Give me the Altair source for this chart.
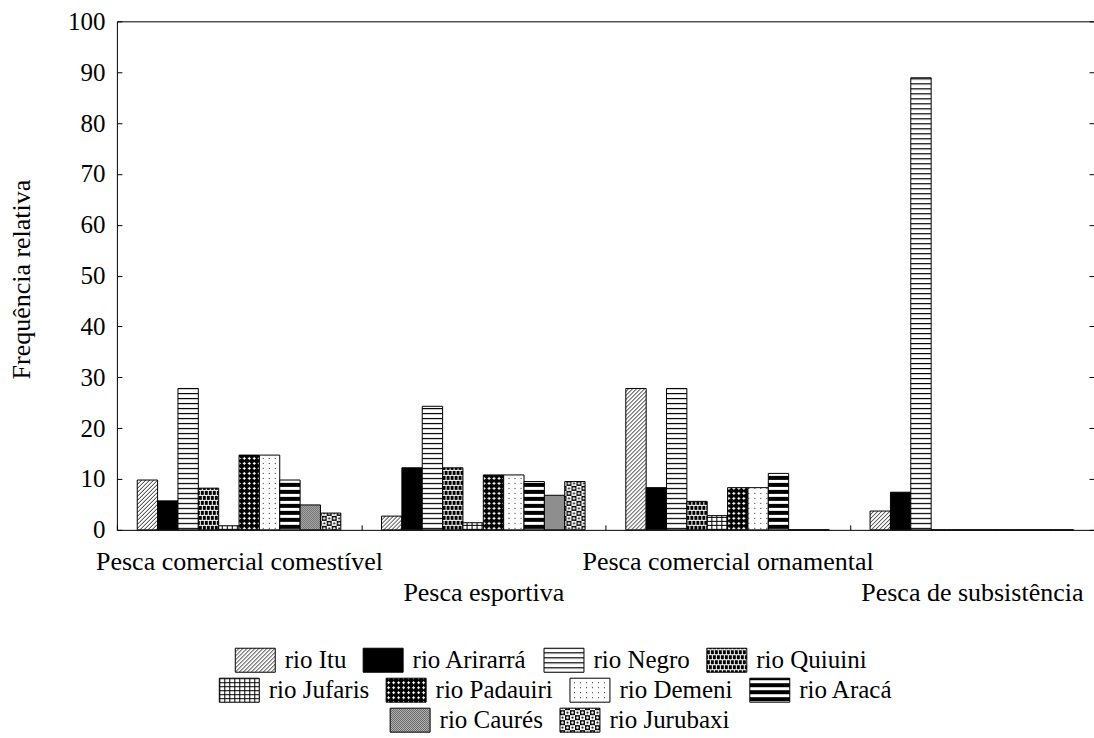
import altair as alt
import pandas as pd
import jinja2

# Categorias (atividades de pesca) e rios amostrados
atividades = [
    "Pesca comercial comestível",
    "Pesca esportiva",
    "Pesca comercial ornamental",
    "Pesca de subsistência",
]
rios = [
    "rio Itu", "rio Arirarrá", "rio Negro", "rio Quiuini", "rio Jufaris",
    "rio Padauiri", "rio Demeni", "rio Aracá", "rio Caurés", "rio Jurubaxi",
]

# Frequência relativa (%) de cada rio, por atividade
comercial_comestivel = [9.8, 5.7, 27.8, 8.2, 0.8, 14.7, 14.7, 9.8, 4.9, 3.3]
esportiva = [2.7, 12.2, 24.3, 12.2, 1.4, 10.8, 10.8, 9.5, 6.8, 9.5]
comercial_ornamental = [27.8, 8.3, 27.8, 5.6, 2.8, 8.3, 8.3, 11.1, 0.0, 0.0]
subsistencia = [3.7, 7.4, 88.9, 0.0, 0.0, 0.0, 0.0, 0.0, 0.0, 0.0]

# Preenchimento de cada rio (hachuras definidas como padrões SVG na página)
preenchimentos = [
    "url(#p-itu)", "#000000", "url(#p-negro)", "url(#p-quiuini)", "url(#p-jufaris)",
    "url(#p-padauiri)", "url(#p-demeni)", "url(#p-araca)", "url(#p-caures)", "url(#p-jurubaxi)",
]

# Linhas da legenda
legenda_linhas = [rios[0:4], rios[4:8], rios[8:10]]
legenda_pos = [(118, 619), (102, 649), (273, 679)]

series = [comercial_comestivel, esportiva, comercial_ornamental, subsistencia]
linhas = []
for atividade, valores in zip(atividades, series):
    for rio, v in zip(rios, valores):
        linhas.append({"atividade": atividade, "rio": rio, "frequencia": v})
df = pd.DataFrame(linhas)

fonte = "Liberation Serif"
escala_y = alt.Scale(domain=[0, 100], nice=False, zero=True)
marcas_y = list(range(0, 101, 10))
cor_por_rio = dict(zip(rios, preenchimentos))

base = alt.Chart(df)

barras = base.mark_bar(stroke="black", strokeWidth=1).encode(
    x=alt.X(
        "atividade:N",
        sort=atividades,
        title=None,
        scale=alt.Scale(paddingInner=0, paddingOuter=0),
        axis=alt.Axis(
            orient="bottom",
            domain=False,
            tickBand="extent",
            tickSize=5,
            offset=-5,
            labelAngle=0,
            labelPadding=19,
            labelFontSize=26,
            labelLineHeight=31,
            labelLimit=0,
            labelOverlap=False,
            labelBound=False,
            labelExpr="indexof(['Pesca esportiva', 'Pesca de subsistência'], datum.value) >= 0 ? ['', datum.label] : datum.label",
        ),
    ),
    xOffset=alt.XOffset(
        "rio:N", sort=rios, scale=alt.Scale(paddingInner=0, paddingOuter=1)
    ),
    y=alt.Y(
        "frequencia:Q",
        title="Frequência relativa",
        scale=escala_y,
        axis=alt.Axis(
            orient="left",
            values=marcas_y,
            domain=False,
            grid=False,
            tickSize=5,
            offset=-5,
            labelPadding=12,
            labelFontSize=25,
            titleFontSize=26,
            titleX=-100,
            titleY=258,
            titleAlign="center",
            titleBaseline="middle",
        ),
    ),
    fill=alt.Fill("rio:N", sort=rios, scale=alt.Scale(domain=rios, range=preenchimentos), legend=None),
)

# Eixo da direita: apenas marcas de escala voltadas para dentro
eixo_direito = base.transform_filter("false").mark_point(opacity=0).encode(
    y=alt.Y(
        "frequencia:Q",
        scale=escala_y,
        axis=alt.Axis(
            orient="right",
            values=marcas_y,
            labels=False,
            domain=False,
            grid=False,
            tickSize=5,
            offset=-5,
            title=None,
        ),
    )
)

# Legenda em três linhas centralizadas
camadas_legenda = []
for grupo, (lx, ly) in zip(legenda_linhas, legenda_pos):
    camadas_legenda.append(
        base.transform_filter("false").mark_bar(stroke="black").encode(
            fill=alt.Fill(
                "rio:N",
                scale=alt.Scale(domain=grupo, range=[cor_por_rio[r] for r in grupo]),
                legend=alt.Legend(
                    title=None,
                    orient="none",
                    legendX=lx,
                    legendY=ly,
                    direction="horizontal",
                    columns=len(grupo),
                    gridAlign="none",
                    symbolType="M-1,-0.6L1,-0.6L1,0.6L-1,0.6Z",
                    symbolSize=1600,
                    symbolStrokeColor="black",
                    symbolStrokeWidth=1,
                    symbolOpacity=1,
                    labelOffset=9,
                    columnPadding=14,
                    labelFontSize=25,
                    labelLimit=0,
                    padding=0,
                ),
            )
        )
    )

chart = (
    alt.layer(barras, eixo_direito, *camadas_legenda)
    .resolve_scale(fill="independent")
    .resolve_axis(y="independent")
    .properties(
        width=978,
        height=509,
        autosize=alt.AutoSizeParams(type="none"),
        padding={"left": 117, "top": 21, "right": 0, "bottom": 208},
        background="white",
    )
    .configure_view(stroke="black", strokeWidth=1, fill="white")
    .configure_axis(
        labelFont=fonte,
        titleFont=fonte,
        labelColor="black",
        titleColor="black",
        tickColor="black",
        tickWidth=1,
        titleFontWeight="normal",
    )
    .configure_legend(labelFont=fonte, labelColor="black")
)

# Padrões de hachura usados como preenchimento
PADROES_SVG = """
<svg width="0" height="0" style="position:absolute;left:0;top:0" aria-hidden="true">
<defs>
<pattern id="p-itu" patternUnits="userSpaceOnUse" width="4" height="4">
<rect width="4" height="4" fill="#fff"/>
<path d="M0,4L4,0M-1,1L1,-1M3,5L5,3" stroke="#222" stroke-width="1"/>
</pattern>
<pattern id="p-negro" patternUnits="userSpaceOnUse" width="6" height="5">
<rect width="6" height="5" fill="#fff"/><rect y="2" width="6" height="1.2" fill="#000"/>
</pattern>
<pattern id="p-quiuini" patternUnits="userSpaceOnUse" width="8" height="10">
<rect width="8" height="10" fill="#fff"/>
<rect x="0" y="0" width="3" height="4" fill="#000"/><rect x="4" y="0" width="3" height="4" fill="#000"/>
<rect x="2" y="5" width="3" height="4" fill="#000"/><rect x="6" y="5" width="2" height="4" fill="#000"/>
<rect x="0" y="5" width="1" height="4" fill="#000"/>
</pattern>
<pattern id="p-jufaris" patternUnits="userSpaceOnUse" width="5" height="4">
<rect width="5" height="4" fill="#fff"/><rect width="1" height="4" fill="#000"/><rect width="5" height="1" fill="#000"/>
</pattern>
<pattern id="p-padauiri" patternUnits="userSpaceOnUse" width="5" height="5">
<rect width="5" height="5" fill="#000"/><rect x="2" y="1" width="1" height="3" fill="#fff"/><rect x="1" y="2" width="3" height="1" fill="#fff"/>
</pattern>
<pattern id="p-demeni" patternUnits="userSpaceOnUse" width="6" height="5">
<rect width="6" height="5" fill="#fff"/><rect x="2" y="2" width="1" height="1" fill="#222"/>
</pattern>
<pattern id="p-araca" patternUnits="userSpaceOnUse" width="6" height="7">
<rect width="6" height="7" fill="#fff"/><rect y="0" width="6" height="4" fill="#000"/>
</pattern>
<pattern id="p-caures" patternUnits="userSpaceOnUse" width="2" height="2">
<rect width="2" height="2" fill="#d8d8d8"/><rect width="1" height="1" fill="#444"/><rect x="1" y="1" width="1" height="1" fill="#444"/>
</pattern>
<pattern id="p-jurubaxi" patternUnits="userSpaceOnUse" width="10" height="10">
<rect width="10" height="10" fill="#fff"/><rect width="5" height="5" fill="#000"/><rect x="5" y="5" width="5" height="5" fill="#000"/>
<circle cx="2.5" cy="2.5" r="1.3" fill="#fff"/><circle cx="7.5" cy="7.5" r="1.3" fill="#fff"/>
<circle cx="7.5" cy="2.5" r="1.1" fill="#000"/><circle cx="2.5" cy="7.5" r="1.1" fill="#000"/>
</pattern>
</defs>
</svg>
"""

pagina = jinja2.Template(
    """<!DOCTYPE html>
<html>
<head>
<meta charset="utf-8">
<style>
  html, body { margin: 0; padding: 0; overflow: hidden; background: #fff; }
  #{{ output_div }}.vega-embed { width: 100%; display: flex; }
</style>
<script type="text/javascript" src="{{ base_url }}/vega@{{ vega_version }}"></script>
<script type="text/javascript" src="{{ base_url }}/vega-lite@{{ vegalite_version }}"></script>
<script type="text/javascript" src="{{ base_url }}/vega-embed@{{ vegaembed_version }}"></script>
</head>
<body>
"""
    + PADROES_SVG
    + """
<div id="{{ output_div }}"></div>
<script>
  vegaEmbed("#{{ output_div }}", {{ spec }}, {{ embed_options }}).catch(function (err) {
    document.getElementById("{{ output_div }}").textContent = err.message;
  });
</script>
</body>
</html>
"""
)

chart.save("out.html", embed_options={"renderer": "svg", "actions": False}, template=pagina)
